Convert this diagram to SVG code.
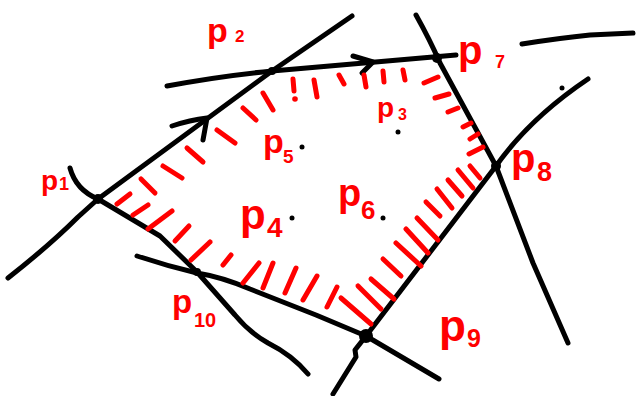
<svg xmlns="http://www.w3.org/2000/svg" width="636" height="396" viewBox="0 0 636 396">
<style>
.ln{fill:none;stroke:#000;stroke-width:5;stroke-linecap:round;stroke-linejoin:round}
.h{fill:none;stroke:#ff0000;stroke-width:5;stroke-linecap:round}
.pt{fill:#000}
.lb{font-family:"Liberation Sans",Arial,sans-serif;font-weight:bold;fill:#ff0000}
</style>
<rect width="636" height="396" fill="#fff"/>
<g id="lines">
<path class="ln" d="M8,278 Q50,245 78,217 L98,199 L272,71 L352,16"/>
<path class="ln" d="M167,86 Q220,76 272,71 L456,55"/>
<path class="ln" d="M416,15 Q430,40 440,63 L496,166 L533,263 L568,343"/>
<path class="ln" d="M588,79 Q530,118 496,166 L366,336 L355,350 L356,357 L333,394"/>
<path class="ln" d="M70,168 Q76,190 98,199 L160,236 L197,272 L235,315 Q250,333 268,343 Q292,355 308,374"/>
<path class="ln" d="M137,256 Q167,266 197,273 Q222,277 250,289 L316,315 L366,336 L439,379"/>
<path class="ln" d="M522,44 Q560,38 590,35 L633,33"/>
<path class="ln" d="M172,126 Q190,120 207,118 L203,140"/>
<path class="ln" d="M353,56 L373,62 L362,73"/>
</g>
<g id="hatching">
<line class="h" x1="117" y1="204" x2="130" y2="194"/>
<line class="h" x1="141" y1="179" x2="155" y2="193"/>
<line class="h" x1="163" y1="166" x2="182" y2="178"/>
<line class="h" x1="187" y1="148" x2="203" y2="162"/>
<line class="h" x1="217" y1="130" x2="235" y2="143"/>
<line class="h" x1="243" y1="108" x2="256" y2="120"/>
<line class="h" x1="263" y1="93" x2="273" y2="110"/>
<line class="h" x1="293" y1="79" x2="294" y2="91"/>
<circle cx="295" cy="99" r="2.8" fill="#ff0000"/>
<line class="h" x1="314" y1="80" x2="317" y2="97"/>
<line class="h" x1="339" y1="75" x2="344" y2="84"/>
<line class="h" x1="364" y1="75" x2="366" y2="87"/>
<line class="h" x1="383" y1="71" x2="384" y2="82"/>
<line class="h" x1="403" y1="70" x2="405" y2="80"/>
<line class="h" x1="424" y1="83" x2="438" y2="77"/>
<line class="h" x1="435" y1="98" x2="449" y2="94"/>
<line class="h" x1="448" y1="112" x2="458" y2="108"/>
<line class="h" x1="463" y1="127" x2="471" y2="123"/>
<line class="h" x1="470" y1="139" x2="478" y2="134"/>
<line class="h" x1="469" y1="154" x2="483" y2="147"/>
<line class="h" x1="470" y1="166" x2="480" y2="178"/>
<line class="h" x1="458" y1="170" x2="473" y2="188"/>
<line class="h" x1="448" y1="180" x2="462" y2="196"/>
<line class="h" x1="437" y1="189" x2="452" y2="208"/>
<line class="h" x1="426" y1="202" x2="440" y2="216"/>
<line class="h" x1="417" y1="218" x2="438" y2="240"/>
<line class="h" x1="406" y1="229" x2="428" y2="253"/>
<line class="h" x1="396" y1="243" x2="421" y2="266"/>
<line class="h" x1="383" y1="259" x2="401" y2="276"/>
<line class="h" x1="371" y1="279" x2="394" y2="299"/>
<line class="h" x1="358" y1="286" x2="381" y2="309"/>
<line class="h" x1="341" y1="298" x2="371" y2="324"/>
<line class="h" x1="327" y1="307" x2="337" y2="287"/>
<line class="h" x1="303" y1="300" x2="317" y2="276"/>
<line class="h" x1="285" y1="293" x2="296" y2="268"/>
<line class="h" x1="263" y1="288" x2="273" y2="263"/>
<line class="h" x1="243" y1="283" x2="259" y2="263"/>
<line class="h" x1="223" y1="265" x2="231" y2="255"/>
<line class="h" x1="191" y1="260" x2="210" y2="242"/>
<line class="h" x1="175" y1="241" x2="189" y2="226"/>
<line class="h" x1="148" y1="229" x2="172" y2="211"/>
<line class="h" x1="133" y1="215" x2="148" y2="205"/>
</g>
<g id="points">
<circle class="pt" cx="98" cy="199" r="5"/>
<circle class="pt" cx="272" cy="71" r="4"/>
<circle class="pt" cx="437" cy="58" r="5"/>
<circle class="pt" cx="496" cy="166" r="5"/>
<circle class="pt" cx="366" cy="336" r="7"/>
<circle class="pt" cx="197" cy="272" r="4"/>
<circle class="pt" cx="302" cy="147" r="2.5"/>
<circle class="pt" cx="398" cy="132" r="2.5"/>
<circle class="pt" cx="292" cy="218" r="2.5"/>
<circle class="pt" cx="383" cy="218" r="2.5"/>
<circle class="pt" cx="562" cy="88" r="2.5"/>
</g>
<g id="labels">
<text class="lb" x="41" y="190" font-size="28">p<tspan font-size="18" x="59" y="190">1</tspan></text>
<text class="lb" x="207" y="42" font-size="34">p<tspan font-size="17" x="235" y="42">2</tspan></text>
<text class="lb" x="377" y="117" font-size="28">p<tspan font-size="16" x="398" y="120">3</tspan></text>
<text class="lb" x="240" y="229" font-size="42">p<tspan font-size="28" x="267" y="237">4</tspan></text>
<text class="lb" x="263" y="153" font-size="34">p<tspan font-size="19" x="283" y="163">5</tspan></text>
<text class="lb" x="338" y="206" font-size="38">p<tspan font-size="26" x="361" y="219">6</tspan></text>
<text class="lb" x="458" y="64" font-size="40">p<tspan font-size="18" x="495" y="68">7</tspan></text>
<text class="lb" x="511" y="172" font-size="40">p<tspan font-size="27" x="537" y="181">8</tspan></text>
<text class="lb" x="439" y="341" font-size="44">p<tspan font-size="25" x="467" y="347">9</tspan></text>
<text class="lb" x="172" y="313" font-size="33">p<tspan font-size="20" x="194" y="327">10</tspan></text>
</g>
</svg>
